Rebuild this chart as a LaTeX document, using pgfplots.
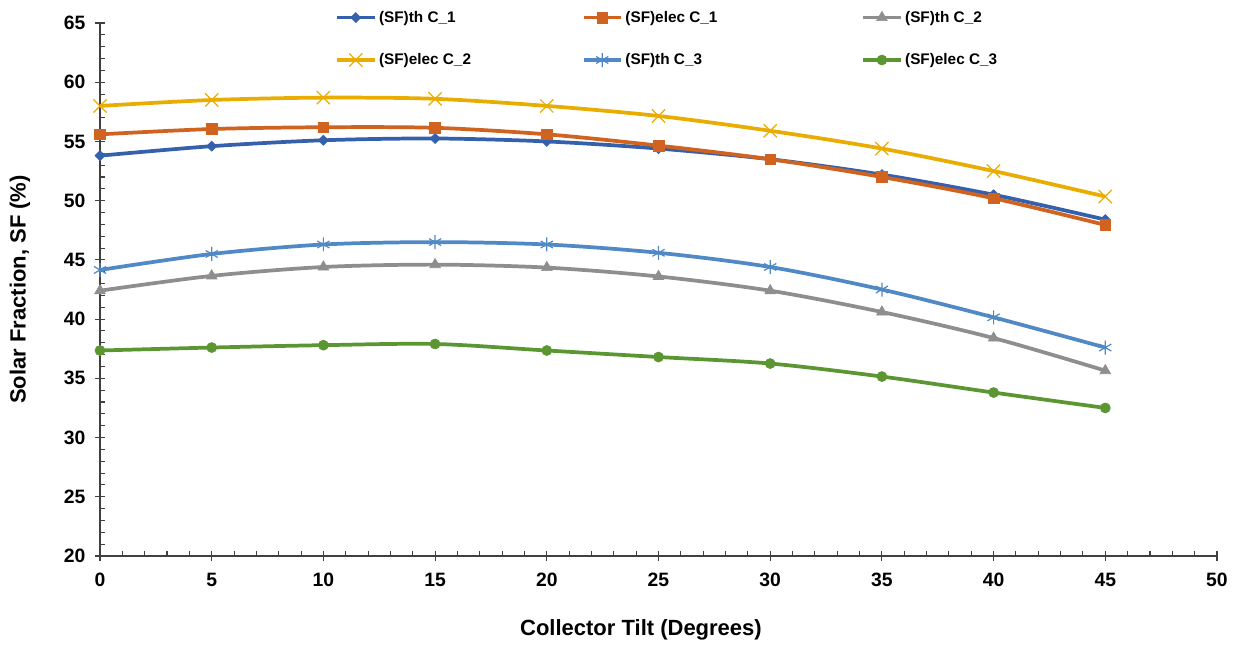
\documentclass[border=0pt]{standalone}
\usepackage{fontspec}
\setmainfont{Liberation Sans}
\usepackage{pgfplots}
\pgfplotsset{compat=1.18}
\definecolor{cA}{HTML}{3560AC}
\definecolor{cB}{HTML}{D06320}
\definecolor{cC}{HTML}{8E8E8E}
\definecolor{cD}{HTML}{E8AD00}
\definecolor{cE}{HTML}{5089C6}
\definecolor{cF}{HTML}{5B9632}
\begin{document}
\begin{tikzpicture}
\begin{axis}[
  at={(0pt,0pt)}, anchor=south west,
  scale only axis, width=837.75pt, height=399.75pt,
  xmin=0, xmax=50, ymin=20, ymax=65,
  xtick={0,5,...,50}, ytick={20,25,...,65},
  minor x tick num=4, minor y tick num=4,
  axis x line=bottom, axis y line=left,
  axis line style={black!75, line width=0.8pt, -},
  tick style={black!75, line width=0.8pt},
  tick align=inside,
  major tick length=7.5pt, minor tick length=4pt,
  every major x tick/.append style={yshift=-3.75pt},
  every major y tick/.append style={xshift=-3.75pt},
  /pgf/number format/assume math mode=true,
  tick label style={font=\fontsize{14.5}{16}\selectfont\bfseries},
  xticklabel style={yshift=-9.5pt},
  yticklabel style={xshift=-7.5pt},
  xlabel={Collector Tilt (Degrees)},
  ylabel={Solar Fraction, SF (\%)},
  label style={font=\fontsize{16.5}{19}\selectfont\bfseries},
  xlabel style={at={(axis description cs:0.4843,-0.1388)}, anchor=center},
  ylabel style={at={(axis description cs:-0.0716,0.5)}, anchor=center},
  legend columns=3,
  legend style={at={(axis description cs:0.2104,1.028)}, anchor=north west,
    draw=none, fill=none, inner sep=0pt,
    font=\fontsize{11.5}{13}\selectfont\bfseries,
    row sep=18pt,
    /tikz/every even column/.append style={column sep=0pt}},
  legend cell align=left,
  legend image code/.code={\draw[mark repeat=2,mark phase=2] plot coordinates {(0pt,0pt)(14pt,0pt)(28pt,0pt)};},
  every axis plot/.append style={line width=2.8pt, smooth, tension=0.5},
  clip=false,
]
\addplot[color=cA, mark=square*, mark size=2.65pt, mark options={rotate=45, line width=0.5pt, fill=cA}] coordinates {
(0,53.8)(5,54.6)(10,55.1)(15,55.25)(20,55.0)(25,54.4)(30,53.5)(35,52.2)(40,50.5)(45,48.4)};
\addlegendentry{\makebox[150pt][l]{(SF)th C\_1}}
\addplot[color=cB, mark=square*, mark size=4pt, mark options={line width=0.5pt, fill=cB}] coordinates {
(0,55.6)(5,56.05)(10,56.2)(15,56.15)(20,55.6)(25,54.65)(30,53.5)(35,52.0)(40,50.2)(45,47.95)};
\addlegendentry{\makebox[175pt][l]{(SF)elec C\_1}}
\addplot[color=cC, mark=triangle*, mark size=4.6pt, mark options={line width=0.5pt, fill=cC}] coordinates {
(0,42.4)(5,43.65)(10,44.4)(15,44.6)(20,44.35)(25,43.6)(30,42.4)(35,40.6)(40,38.4)(45,35.65)};
\addlegendentry{(SF)th C\_2}
\addplot[color=cD, mark=x, mark size=7pt, mark options={line width=0.9pt}] coordinates {
(0,58.0)(5,58.5)(10,58.7)(15,58.6)(20,58.0)(25,57.15)(30,55.9)(35,54.4)(40,52.5)(45,50.35)};
\addlegendentry{\makebox[150pt][l]{(SF)elec C\_2}}
\addplot[color=cE, mark=asterisk, mark size=5.25pt, mark options={line width=0.9pt}] coordinates {
(0,44.15)(5,45.5)(10,46.3)(15,46.5)(20,46.3)(25,45.6)(30,44.4)(35,42.5)(40,40.15)(45,37.6)};
\addlegendentry{\makebox[175pt][l]{(SF)th C\_3}}
\addplot[color=cF, mark=*, mark size=3.75pt, mark options={line width=0.5pt, fill=cF}] coordinates {
(0,37.35)(5,37.6)(10,37.8)(15,37.9)(20,37.35)(25,36.8)(30,36.25)(35,35.15)(40,33.8)(45,32.5)};
\addlegendentry{(SF)elec C\_3}
\end{axis}
\pgfresetboundingbox
\useasboundingbox (-75pt,-66pt) rectangle (860.25pt,417pt);
\end{tikzpicture}
\end{document}
